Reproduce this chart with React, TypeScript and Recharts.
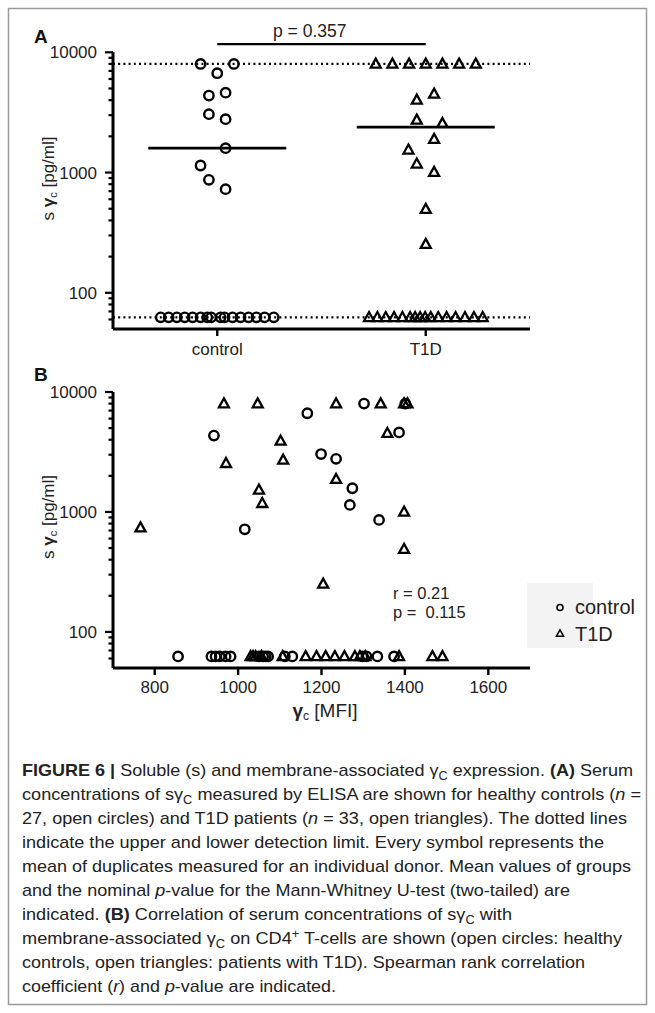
import React from 'react';
import { ScatterChart, Scatter, XAxis, YAxis, ReferenceLine } from 'recharts';

const FONT = '"Liberation Sans", Arial, Helvetica, sans-serif';

// ---------- shared axis values ----------
const groupNames = ['control', 'T1D'];
const groupPositions = [1, 2];
const yMajorTicks = [100, 1000, 10000];
const yMinorTicks = [60, 70, 80, 90, 200, 300, 400, 500, 600, 700, 800, 900, 2000, 3000, 4000, 5000, 6000, 7000, 8000, 9000];
const yDomain: [number, number] = [50, 10000];
const upperDetectionLimit = 8000;
const lowerDetectionLimit = 62.5;

// ---------- panel A (beeswarm offsets around group position) ----------
const controlAOffsets = [-0.08, 0.08, 0, -0.04, 0.04, -0.04, 0.04, 0.04, -0.08, -0.04, 0.04,
  -0.271, -0.233, -0.194, -0.156, -0.118, -0.08, -0.048, -0.029, 0.016, 0.035, 0.073, 0.112, 0.15, 0.188, 0.227, 0.271];
const controlAValues = [8000, 8000, 6700, 4370, 4620, 3060, 2780, 1595, 1144, 870, 728,
  62.5, 62.5, 62.5, 62.5, 62.5, 62.5, 62.5, 62.5, 62.5, 62.5, 62.5, 62.5, 62.5, 62.5, 62.5, 62.5];
const t1dAOffsets = [-0.24, -0.16, -0.08, 0, 0.08, 0.16, 0.24, 0.04, -0.043, -0.043, 0.08, 0.04, -0.083, -0.043, 0.04, 0, 0,
  -0.272, -0.232, -0.192, -0.152, -0.112, -0.075, -0.051, -0.027, -0.003, 0.024, 0.06, 0.1, 0.143, 0.188, 0.231, 0.273];
const t1dAValues = [8000, 8000, 8000, 8000, 8000, 8000, 8000, 4510, 4020, 2740, 2570, 1895, 1545, 1181, 1008, 496, 254,
  62.5, 62.5, 62.5, 62.5, 62.5, 62.5, 62.5, 62.5, 62.5, 62.5, 62.5, 62.5, 62.5, 62.5, 62.5, 62.5];
const groupMeans = [1595, 2385];
const pBracketLevel = 11700;
const pValueA = 'p = 0.357';

// ---------- panel B ----------
const xTicksB = [800, 1000, 1200, 1400, 1600];
const xDomainB: [number, number] = [700, 1700];
const controlBMfi = [942, 1166, 1199, 1235, 1274, 1268, 1016, 1302, 1386, 1338, 1401,
  856, 936, 946, 956, 970, 982, 1050, 1060, 1066, 1072, 1112, 1130, 1298, 1308, 1334, 1374];
const controlBValues = [4330, 6650, 3040, 2770, 1576, 1144, 717, 8000, 4600, 858, 8000,
  62.5, 62.5, 62.5, 62.5, 62.5, 62.5, 62.5, 62.5, 62.5, 62.5, 62.5, 62.5, 62.5, 62.5, 62.5, 62.5];
const t1dBMfi = [966, 1047, 1235, 1342, 1398, 1406, 1102, 971, 1108, 1235, 1050, 1058, 766, 1204, 1358, 1398, 1398,
  1030, 1036, 1042, 1056, 1107, 1162, 1188, 1210, 1232, 1255, 1280, 1292, 1305, 1386, 1466, 1490];
const t1dBValues = [8000, 8000, 8000, 8000, 8000, 8000, 3905, 2545, 2712, 1873, 1525, 1181, 740, 251, 4528, 1000, 489,
  62.5, 62.5, 62.5, 62.5, 62.5, 62.5, 62.5, 62.5, 62.5, 62.5, 62.5, 62.5, 62.5, 62.5, 62.5, 62.5];
const statsB = ['r = 0.21', 'p =  0.115'];
const legendNames = ['control', 'T1D'];

// ---------- caption ----------
type Seg = { t: string; b?: boolean; i?: boolean; sub?: boolean; sup?: boolean };
const captionLines: Seg[][] = [
  [{ t: 'FIGURE 6 | ', b: true }, { t: 'Soluble (s) and membrane-associated γ' }, { t: 'C', sub: true }, { t: ' expression. ' }, { t: '(A)', b: true }, { t: ' Serum' }],
  [{ t: 'concentrations of sγ' }, { t: 'C', sub: true }, { t: ' measured by ELISA are shown for healthy controls (' }, { t: 'n', i: true }, { t: ' =' }],
  [{ t: '27, open circles) and T1D patients (' }, { t: 'n', i: true }, { t: ' = 33, open triangles). The dotted lines' }],
  [{ t: 'indicate the upper and lower detection limit. Every symbol represents the' }],
  [{ t: 'mean of duplicates measured for an individual donor. Mean values of groups' }],
  [{ t: 'and the nominal ' }, { t: 'p', i: true }, { t: '-value for the Mann-Whitney U-test (two-tailed) are' }],
  [{ t: 'indicated. ' }, { t: '(B)', b: true }, { t: ' Correlation of serum concentrations of sγ' }, { t: 'C', sub: true }, { t: ' with' }],
  [{ t: 'membrane-associated γ' }, { t: 'C', sub: true }, { t: ' on CD4' }, { t: '+', sup: true }, { t: ' T-cells are shown (open circles: healthy' }],
  [{ t: 'controls, open triangles: patients with T1D). Spearman rank correlation' }],
  [{ t: 'coefficient (' }, { t: 'r', i: true }, { t: ') and ' }, { t: 'p', i: true }, { t: '-value are indicated.' }],
];
const captionWidths = [611, 619, 605, 582, 609, 548, 490, 600, 563, 314];

// ---------- derived point lists ----------
const controlA = controlAValues.map((y, i) => ({ x: groupPositions[0] + controlAOffsets[i], y }));
const t1dA = t1dAValues.map((y, i) => ({ x: groupPositions[1] + t1dAOffsets[i], y }));
const meansA = groupMeans.map((y, i) => ({ x: groupPositions[i], y }));
const controlB = controlBValues.map((y, i) => ({ x: controlBMfi[i], y }));
const t1dB = t1dBValues.map((y, i) => ({ x: t1dBMfi[i], y }));
const yTicksAll = [...yMajorTicks, ...yMinorTicks].sort((a, b) => a - b);

// ---------- shapes ----------
const CircleShape = (props: any) => (
  <circle cx={props.cx} cy={props.cy} r={4.7} fill="none" stroke="#000" strokeWidth={2.4} />
);
const TriangleShape = (props: any) => {
  const { cx, cy } = props;
  return (
    <path d={`M${cx},${cy - 5.3}L${cx + 5},${cy + 3.7}L${cx - 5},${cy + 3.7}Z`} fill="none" stroke="#000" strokeWidth={2.3} />
  );
};
const MeanShape = (props: any) => (
  <line x1={props.cx - 69} x2={props.cx + 69} y1={props.cy} y2={props.cy} stroke="#000" strokeWidth={2.6} />
);

const TS = 8;
const TM = 8;
const YTick = (props: any) => {
  const { x, y, payload } = props;
  const v = payload.value;
  const major = yMajorTicks.includes(v);
  const ax = x + TS + TM;
  return (
    <g>
      <line x1={ax - (major ? 8 : 4.5)} x2={ax} y1={y} y2={y} stroke="#000" strokeWidth={2.2} />
      {major && (
        <text x={x} y={y} dy="0.355em" textAnchor="end" fontSize={17} fontFamily={FONT} fill="#222">
          {v}
        </text>
      )}
    </g>
  );
};

const yAxisProps = {
  type: 'number' as const,
  dataKey: 'y',
  scale: 'log' as const,
  domain: yDomain,
  ticks: yTicksAll,
  width: 105,
  tickLine: false,
  tickSize: TS,
  tickMargin: TM,
  interval: 0 as const,
  allowDataOverflow: true,
  tick: (p: any) => <YTick {...p} />,
  axisLine: { stroke: '#000', strokeWidth: 3 },
};

const YLabel = ({ x, y }: { x: number; y: number }) => (
  <text transform={`translate(${x},${y}) rotate(-90)`} textAnchor="middle" fontSize={17} fontFamily={FONT} fill="#222">
    s <tspan fontWeight="bold">γ</tspan>
    <tspan fontSize={11} dy={3}>c</tspan>
    <tspan dy={-3}> [pg/ml]</tspan>
  </text>
);

const CaptionLine = ({ segs, y, width }: { segs: Seg[]; y: number; width: number }) => {
  let shift = 0;
  const parts = segs.map((s, k) => {
    let target = 0;
    if (s.sub) target = 3.5;
    if (s.sup) target = -6;
    const dy = target - shift;
    shift = target;
    return (
      <tspan
        key={k}
        dy={dy}
        fontWeight={s.b ? 'bold' : 'normal'}
        fontStyle={s.i ? 'italic' : 'normal'}
        fontSize={s.sub || s.sup ? 12 : 17}
      >
        {s.t}
      </tspan>
    );
  });
  return (
    <text x={22} y={y} fontSize={17} fontFamily={FONT} fill="#222" textLength={width} lengthAdjust="spacingAndGlyphs" style={{ whiteSpace: 'pre' }}>
      {parts}
    </text>
  );
};

export default function App() {
  return (
    <div style={{ position: 'absolute', left: 0, top: 0, width: 655, height: 1013, background: '#fff', fontFamily: FONT }}>
      <div style={{ position: 'absolute', left: 8, top: 8 }}>
        <ScatterChart width={639} height={360} margin={{ top: 44.3, right: 117, bottom: 9, left: 0 }}>
          <XAxis
            type="number"
            dataKey="x"
            domain={[0.5, 2.5]}
            ticks={groupPositions}
            tickFormatter={(v: number) => groupNames[groupPositions.indexOf(v)]}
            height={30}
            tickSize={7}
            tickMargin={7}
            interval={0}
            tick={{ fontSize: 17, fill: '#222', fontFamily: FONT }}
            tickLine={{ stroke: '#000', strokeWidth: 2.4 }}
            axisLine={{ stroke: '#000', strokeWidth: 2.8 }}
          />
          <YAxis {...yAxisProps} />
          <ReferenceLine y={upperDetectionLimit} stroke="#000" strokeWidth={2.2} strokeDasharray="2 3.2" />
          <ReferenceLine y={lowerDetectionLimit} stroke="#000" strokeWidth={2.2} strokeDasharray="2 3.2" />
          <ReferenceLine
            segment={[{ x: groupPositions[0], y: pBracketLevel }, { x: groupPositions[1], y: pBracketLevel }]}
            ifOverflow="visible"
            stroke="#000"
            strokeWidth={2.4}
          />
          <Scatter data={controlA} shape={CircleShape} isAnimationActive={false} />
          <Scatter data={t1dA} shape={TriangleShape} isAnimationActive={false} />
          <Scatter data={meansA} shape={MeanShape} isAnimationActive={false} />
        </ScatterChart>
      </div>
      <div style={{ position: 'absolute', left: 8, top: 360 }}>
        <ScatterChart width={639} height={350} margin={{ top: 32, right: 117, bottom: 12, left: 0 }}>
          <XAxis
            type="number"
            dataKey="x"
            domain={xDomainB}
            ticks={xTicksB}
            height={30}
            tickSize={7}
            tickMargin={6}
            interval={0}
            tick={{ fontSize: 17, fill: '#222', fontFamily: FONT }}
            tickLine={{ stroke: '#000', strokeWidth: 2.4 }}
            axisLine={{ stroke: '#000', strokeWidth: 2.8 }}
          />
          <YAxis {...yAxisProps} />
          <Scatter data={controlB} shape={CircleShape} isAnimationActive={false} />
          <Scatter data={t1dB} shape={TriangleShape} isAnimationActive={false} />
        </ScatterChart>
      </div>
      <svg width={655} height={1013} style={{ position: 'absolute', left: 0, top: 0, pointerEvents: 'none' }}>
        <rect x={8.5} y={8.5} width={638} height={996} fill="none" stroke="#9a9a9a" strokeWidth={1.5} />
        <text x={34} y={43} fontSize={19} fontWeight="bold" fontFamily={FONT} fill="#111">A</text>
        <text x={34} y={381} fontSize={19} fontWeight="bold" fontFamily={FONT} fill="#111">B</text>
        <text x={273} y={36.5} fontSize={17.5} fontFamily={FONT} fill="#222">{pValueA}</text>
        <YLabel x={53.5} y={178.5} />
        <YLabel x={53.5} y={517} />
        <text x={393} y={598.5} fontSize={16.5} fontFamily={FONT} fill="#222" style={{ whiteSpace: 'pre' }}>{statsB[0]}</text>
        <text x={393} y={617.5} fontSize={16.5} fontFamily={FONT} fill="#222" style={{ whiteSpace: 'pre' }}>{statsB[1]}</text>
        <text x={325} y={717} textAnchor="middle" fontSize={19} fontFamily={FONT} fill="#222">
          <tspan fontWeight="bold">γ</tspan>
          <tspan fontSize={12} dy={3}>c</tspan>
          <tspan dy={-3}> [MFI]</tspan>
        </text>
        <rect x={527} y={583} width={66} height={65} fill="#f3f3f3" />
        <circle cx={560} cy={607.5} r={3} fill="none" stroke="#000" strokeWidth={1.6} />
        <path d="M560,629.8L563.6,636.2L556.4,636.2Z" fill="none" stroke="#000" strokeWidth={1.5} />
        <text x={575} y={614} fontSize={20} fontFamily={FONT} fill="#222">{legendNames[0]}</text>
        <text x={575} y={640.5} fontSize={20} fontFamily={FONT} fill="#222">{legendNames[1]}</text>
        {captionLines.map((segs, i) => (
          <CaptionLine key={i} segs={segs} y={776 + i * 24} width={captionWidths[i]} />
        ))}
      </svg>
    </div>
  );
}
